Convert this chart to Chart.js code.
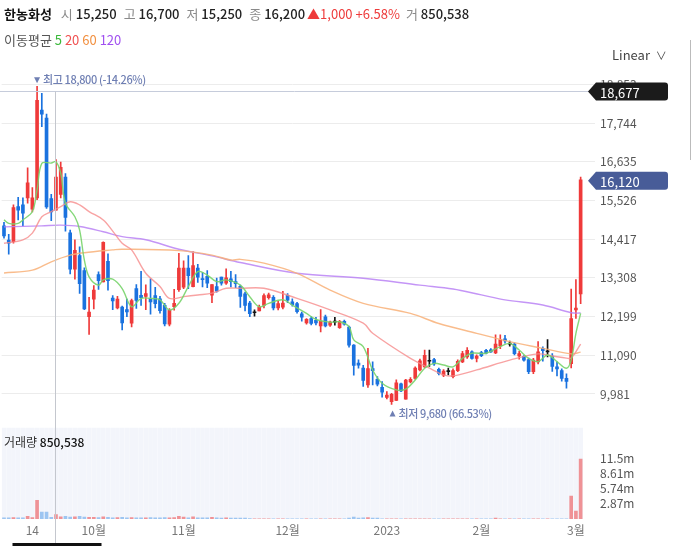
<!DOCTYPE html>
<html>
<head>
<meta charset="utf-8">
<script src="https://cdn.jsdelivr.net/npm/chart.js@4.4.0/dist/chart.umd.min.js"></script>
<style>
  body { margin: 0; background: #fff; font-family: "Noto Sans CJK KR", "Noto Sans", sans-serif; }
  #wrap { position: relative; width: 693px; height: 546px; overflow: hidden; }
  #chart { position: absolute; left: 0; top: 0; }
  .txt { position: absolute; white-space: nowrap; z-index: 2; }
  .g { color: #8a8a8a; }
  .v { color: #222; font-weight: 500; margin-right: 7px; }
  .up { color: #ee3b3b; }
</style>
</head>
<body>
<div id="wrap">
  <canvas id="chart" width="693" height="546"></canvas>
  <div class="txt" style="left:4px;top:4px;font-size:13px;">
    <b style="color:#111;margin-right:9px;">한농화성</b><span class="g">시 </span><span class="v">15,250</span><span class="g">고 </span><span class="v">16,700</span><span class="g">저 </span><span class="v">15,250</span><span class="g">종 </span><span class="v" style="margin-right:2px">16,200</span><span class="up" style="margin-right:6px">▲1,000 +6.58%</span><span class="g">거 </span><span class="v">850,538</span>
  </div>
  <div class="txt" style="left:4px;top:30px;font-size:13px;color:#555;">
    이동평균 <span style="color:#3cb93c">5</span> <span style="color:#f05050">20</span> <span style="color:#f29040">60</span> <span style="color:#a050f0">120</span>
  </div>
  <div class="txt" style="left:612px;top:45px;font-size:13px;color:#444;">Linear <span style="font-size:11px;margin-left:3px;">∨</span></div>
  <div style="position:absolute;left:690px;top:40px;width:1px;height:120px;background:#bbb;"></div>
  <div class="txt" style="left:4px;top:433px;font-size:12px;color:#333;">거래량 <span style="color:#111;font-weight:500">850,538</span></div>
</div>
<script>
// trading days shown on the chart (Sep 2022 - Mar 2023)
const days = {
  '2022-09': [2,5,6,7,8,13,14,15,16,19,20,21,22,23,26,27,28,29,30],
  '2022-10': [4,5,6,7,11,12,13,14,17,18,19,20,21,24,25,26,27,28,31],
  '2022-11': [1,2,3,4,7,8,9,10,11,14,15,16,17,18,21,22,23,24,25,28,29,30],
  '2022-12': [1,2,5,6,7,8,9,12,13,14,15,16,19,20,21,22,23,26,27,28,29],
  '2023-01': [2,3,4,5,6,9,10,11,12,13,16,17,18,19,20,25,26,27,30,31],
  '2023-02': [1,2,3,6,7,8,9,10,13,14,15,16,17,20,21,22,23,24,27,28],
  '2023-03': [2,3]
};
const labels = [];
for (const m in days) days[m].forEach(d => labels.push(m + '-' + String(d).padStart(2, '0')));

const xTickIdx  = [6, 19, 38, 60, 81, 101, 121];
const xTickText = ['14', '10월', '11월', '12월', '2023', '2월', '3월'];

const opens  = [14800,14390,14350,15350,15400,15600,15280,15600,18120,17890,15580,15250,15700,16200,14600,13560,13950,13515,12200,12700,
                13400,13190,13780,12730,12450,12470,12400,12010,13000,12810,12780,12710,12800,12710,12520,11980,12480,12970,13040,13590,
                13060,13590,13290,13350,12810,13060,13330,13160,13280,13200,13070,12850,12590,12310,12360,12520,12740,12750,12450,12470,
                12810,12620,12570,12280,12020,12140,12090,11930,12190,11950,12040,11880,12060,11900,11380,10870,10720,10240,10710,10400,
                10170,9880,9760,9800,10270,9830,10330,10430,10670,10760,10920,10970,10690,10520,10620,10480,10650,10900,11040,11190,
                11000,11170,11230,11250,11160,11360,11560,11410,11410,11070,11060,10970,10620,10900,11290,11190,11070,10760,10650,10430,
                10850,12390,12850];
const highs  = [14900,14560,15400,15620,15600,16460,15900,18800,18600,18000,15700,16700,16630,16300,14680,14400,14200,13600,12750,13090,
                13480,14340,14000,12800,12780,12500,12700,12700,13120,13500,13110,13280,13040,12780,12580,12430,12980,14010,13800,13950,
                14060,13700,13470,13520,13120,13300,13330,13570,13500,13400,13100,12900,12640,12390,12530,12850,12870,12800,12650,12920,
                12860,12710,12610,12330,12140,12200,12180,12400,12240,12070,12180,12090,12100,11930,11400,10960,10800,11290,10900,10480,
                10340,10050,10000,10390,10290,10400,10450,10760,10980,11240,11240,11000,10720,10680,10720,10700,10960,11200,11310,11220,
                11100,11200,11260,11280,11680,11680,11660,11500,11450,11200,11080,11010,11000,11480,11330,11540,11140,10900,10700,10560,
                12990,13260,16200];
const lows   = [14450,13990,14300,14970,14800,15450,15200,15550,17640,15300,14950,15250,15600,14650,13420,13270,12860,12400,11690,12420,
                12980,13190,12960,12400,12420,11820,12200,11900,12430,12520,12400,12270,12450,12300,11930,11930,12380,12920,13000,13000,
                13050,13180,13050,13030,12600,12900,13100,13120,13050,13030,12460,12360,12200,12210,12360,12450,12700,12390,12390,12420,
                12600,12500,12300,12070,11980,11960,11960,11760,11900,11920,11950,11860,11950,11320,10520,10720,10200,10170,10240,10210,
                9890,9840,9680,9790,10050,9830,10300,10400,10640,10740,10770,10800,10530,10480,10530,10440,10620,10880,11000,10980,
                10900,11050,11130,11170,11140,11280,11440,11350,11100,10980,10920,10560,10560,10840,10920,11040,10630,10500,10350,10150,
                10730,12150,12570];
const closes = [14510,14300,15320,15250,15160,16030,15600,18400,18000,15340,15200,16200,16480,15040,13560,14100,13140,12420,12330,12960,
                13230,14330,13230,12650,12700,12020,12330,12660,12660,12740,12860,12620,12570,12370,11990,12380,12580,13590,13590,13370,
                13660,13330,13260,13160,13120,12930,13160,13310,13200,13140,12780,12520,12280,12310,12470,12800,12820,12450,12570,12590,
                12670,12540,12340,12180,12120,12000,12020,12060,11930,12040,12040,12060,11980,11380,10800,10810,10370,10710,10650,10260,
                10030,9950,9970,10300,10070,10380,10400,10720,10930,11090,10920,10840,10570,10640,10620,10650,10920,11140,11230,11000,
                11070,11080,11150,11190,11410,11540,11500,11410,11140,11140,10950,10620,10950,11190,11220,11190,10770,10700,10430,10340,
                12140,12440,16120];

const volumes = [200000,200000,250000,200000,200000,500000,250000,3500000,1300000,1300000,300000,850538,400000,500000,350000,400000,500000,350000,300000,300000,
                 250000,400000,300000,200000,250000,300000,200000,250000,200000,200000,200000,250000,200000,200000,250000,200000,250000,500000,350000,200000,
                 400000,200000,200000,200000,300000,200000,150000,200000,150000,150000,150000,150000,100000,50000,50000,50000,50000,50000,50000,50000,
                 50000,50000,50000,50000,50000,50000,50000,50000,50000,50000,50000,50000,50000,150000,350000,150000,200000,250000,150000,150000,
                 50000,50000,50000,50000,50000,50000,50000,50000,50000,50000,50000,50000,50000,50000,50000,50000,50000,50000,50000,50000,
                 50000,50000,50000,50000,150000,50000,50000,50000,50000,50000,50000,50000,50000,50000,50000,50000,50000,50000,50000,50000,
                 4300000,1500000,11300000];

// moving averages: [candle index, value]
const ma5 = [[0,14970],[1,14870],[3,14870],[4,14970],[6,15210],[7,15830],[8,16590],[10,16600],[11,16640],[12,16310],[13,15450],[15,15060],
             [16,14680],[17,13820],[18,13340],[20,13100],[21,13250],[23,13270],[25,13000],[27,12480],[29,12720],[31,12720],[33,12680],
             [35,12390],[37,12580],[39,13060],[41,13490],[43,13390],[45,13200],[47,13250],[50,13100],[52,12770],[54,12480],[56,12580],
             [59,12680],[61,12530],[64,12290],[66,12120],[69,12040],[71,12050],[73,11910],[74,11530],[76,11340],[78,10670],[80,10290],
             [83,10100],[85,10120],[87,10380],[89,10720],[91,10860],[93,10810],[95,10760],[97,11000],[99,11150],[102,11150],[105,11340],
             [107,11430],[109,11240],[111,11000],[113,10910],[115,11100],[117,10910],[119,10720],[120,10950],[121,11720],[122,12290]];
const ma20 = [[0,14300],[4,14400],[6,14590],[8,15060],[10,15210],[12,15350],[14,15490],[16,15400],[18,15210],[21,14970],[23,14650],
              [25,14300],[27,14110],[30,13440],[33,13060],[35,12720],[38,12770],[41,12820],[44,12870],[47,13010],[50,13010],[55,13010],
              [62,12720],[69,12390],[76,12010],[78,11720],[86,11000],[90,10720],[93,10530],[95,10500],[100,10670],[107,10950],
              [113,11130],[116,11070],[119,11010],[120,11010],[122,11410]];
const ma60 = [[0,13450],[6,13530],[10,13770],[14,13960],[17,14030],[23,14110],[25,14130],[37,14090],[44,13960],[48,13820],[50,13840],
              [55,13730],[62,13440],[69,12960],[76,12580],[86,12290],[92,12000],[100,11720],[107,11480],[114,11290],[120,11130],[122,11180]];
const ma120 = [[0,14770],[8,14800],[12,14820],[16,14780],[21,14630],[25,14490],[30,14400],[37,14130],[44,13940],[50,13750],[62,13440],
               [76,13300],[88,13100],[95,12990],[101,12820],[106,12680],[114,12530],[120,12310],[122,12300]];

const priceTicks = [9981, 11090, 12199, 13308, 14417, 15526, 16635, 17744, 18853];
const volTicks = [2870000, 5740000, 8610000, 11500000];
const volTickText = ['2.87m', '5.74m', '8.61m', '11.5m'];
const hoverIdx = 11, crossPrice = 18677, lastClose = 16120;
const highIdx = 7, highText = '최고 18,800 (-14.26%)', highVal = 18800;
const lowIdx = 82, lowText = '최저 9,680 (66.53%)', lowVal = 9680;

const RED = '#ef3a3a', BLUE = '#1a72df', BLACK = '#111';
const candleColor = opens.map((o, i) => closes[i] > o ? RED : closes[i] < o ? BLUE : BLACK);
const volColor = opens.map((o, i) => closes[i] >= o ? 'rgba(238,112,116,0.75)' : 'rgba(120,176,236,0.7)');

function spread(pairs) {
  const arr = new Array(labels.length).fill(null);
  pairs.forEach(p => { arr[p[0]] = p[1]; });
  return arr;
}
function maSet(label, pairs, color) {
  return { type: 'line', label, data: spread(pairs), yAxisID: 'y', borderColor: color, borderWidth: 1.4,
           pointRadius: 0, spanGaps: true, tension: 0.35, order: 1 };
}

function tag(ctx, x, y, color, text) {
  const h = 18, w = 80;
  ctx.fillStyle = color;
  ctx.beginPath();
  ctx.moveTo(x, y);
  ctx.lineTo(x + 8, y - h / 2);
  ctx.lineTo(x + w - 3, y - h / 2);
  ctx.quadraticCurveTo(x + w, y - h / 2, x + w, y - h / 2 + 3);
  ctx.lineTo(x + w, y + h / 2 - 3);
  ctx.quadraticCurveTo(x + w, y + h / 2, x + w - 3, y + h / 2);
  ctx.lineTo(x + 8, y + h / 2);
  ctx.closePath();
  ctx.fill();
  ctx.fillStyle = '#fff';
  ctx.font = '13px "Noto Sans CJK KR", "Noto Sans", sans-serif';
  ctx.textAlign = 'left';
  ctx.textBaseline = 'middle';
  ctx.fillText(text, x + 12, y + 1);
}

// small triangle + note text, used for the high / low markers
function note(ctx, x, y, up, text) {
  ctx.fillStyle = '#6f7fb3';
  ctx.beginPath();
  if (up) { ctx.moveTo(x, y + 3); ctx.lineTo(x + 6, y + 3); ctx.lineTo(x + 3, y - 3); }
  else { ctx.moveTo(x, y - 3); ctx.lineTo(x + 6, y - 3); ctx.lineTo(x + 3, y + 3); }
  ctx.closePath();
  ctx.fill();
  ctx.font = '500 11px "Noto Sans CJK KR", "Noto Sans", sans-serif';
  ctx.letterSpacing = '-0.4px';
  ctx.textAlign = 'left';
  ctx.textBaseline = 'middle';
  ctx.fillText(text, x + 9, y);
  ctx.letterSpacing = '0px';
}

const overlay = {
  id: 'overlay',
  afterDraw(chart) {
    const { ctx, chartArea: a, scales: { x, y, yv } } = chart;
    ctx.save();
    // crosshair
    const hy = Math.round(y.getPixelForValue(crossPrice)) + 0.5;
    const cx = Math.round(x.getPixelForValue(hoverIdx)) - 0.5;
    ctx.lineWidth = 1;
    ctx.strokeStyle = '#c6ccdb';
    ctx.beginPath(); ctx.moveTo(0, hy); ctx.lineTo(a.right + 6, hy); ctx.stroke();
    ctx.strokeStyle = '#c4c7ce';
    ctx.beginPath(); ctx.moveTo(cx, hy); ctx.lineTo(cx, 546); ctx.stroke();
    ctx.fillStyle = '#111';
    ctx.fillRect(cx - 43, 543, 89, 3);

    tag(ctx, a.right + 5, y.getPixelForValue(crossPrice) + 1, '#1b1b1b', crossPrice.toLocaleString('en-US'));
    tag(ctx, a.right + 5, y.getPixelForValue(lastClose) + 1, '#485c98', lastClose.toLocaleString('en-US'));

    // high / low notes
    note(ctx, x.getPixelForValue(highIdx) - 3, y.getPixelForValue(highVal) - 6, false, highText);
    note(ctx, x.getPixelForValue(lowIdx) - 2, y.getPixelForValue(lowVal) + 9, true, lowText);

    // volume scale labels
    ctx.fillStyle = '#555';
    ctx.font = '12px "Noto Sans CJK KR", "Noto Sans", sans-serif';
    ctx.textAlign = 'left';
    ctx.textBaseline = 'middle';
    volTicks.forEach((v, i) => ctx.fillText(volTickText[i], a.right + 17, yv.getPixelForValue(v)));
    ctx.restore();
  }
};

Chart.defaults.font.family = '"Noto Sans CJK KR", "Noto Sans", sans-serif';

new Chart(document.getElementById('chart'), {
  type: 'bar',
  data: {
    labels,
    datasets: [
      maSet('MA5', ma5, 'rgba(120,212,108,0.9)'),
      maSet('MA20', ma20, 'rgba(246,140,140,0.8)'),
      maSet('MA60', ma60, 'rgba(248,176,120,0.85)'),
      maSet('MA120', ma120, 'rgba(186,130,244,0.85)'),
      { label: 'body', data: opens.map((o, i) => [o, closes[i]]), yAxisID: 'y', backgroundColor: candleColor,
        barThickness: 3, minBarLength: 1, grouped: false, order: 3 },
      { label: 'wick', data: lows.map((l, i) => [l, highs[i]]), yAxisID: 'y', backgroundColor: candleColor,
        barThickness: 1, minBarLength: 1, grouped: false, order: 4 },
      { label: 'volume', data: volumes, yAxisID: 'yv', backgroundColor: volColor,
        barThickness: 3, grouped: false, order: 8 },
      { label: 'pane', data: labels.map(() => 17150000), yAxisID: 'yv', backgroundColor: '#f3f5fb',
        barThickness: 4, grouped: false, order: 10 }
    ]
  },
  options: {
    responsive: false,
    animation: false,
    layout: { padding: { top: 62, left: 0, right: 0, bottom: 0 } },
    plugins: { legend: { display: false }, tooltip: { enabled: false } },
    scales: {
      x: {
        grid: { display: false, drawTicks: false },
        border: { display: false },
        ticks: {
          autoSkip: false, maxRotation: 0, padding: 4, color: '#777', font: { size: 12 },
          callback: (v, i) => { const k = xTickIdx.indexOf(i); return k >= 0 ? xTickText[k] : ''; }
        },
        afterFit: s => { s.height = 27; }
      },
      y: {
        position: 'right',
        min: 6398, max: 19496,
        afterBuildTicks: s => { s.ticks = priceTicks.map(v => ({ value: v })); },
        ticks: { color: '#555', font: { size: 12 }, padding: 5, callback: v => v.toLocaleString('en-US') },
        grid: { color: '#ececec', tickLength: 12, tickColor: '#ececec' },
        border: { display: false },
        afterFit: s => { s.width = 110; }
      },
      yv: { display: false, min: 0, max: 86200000 }
    }
  },
  plugins: [overlay]
});
</script>
</body>
</html>
